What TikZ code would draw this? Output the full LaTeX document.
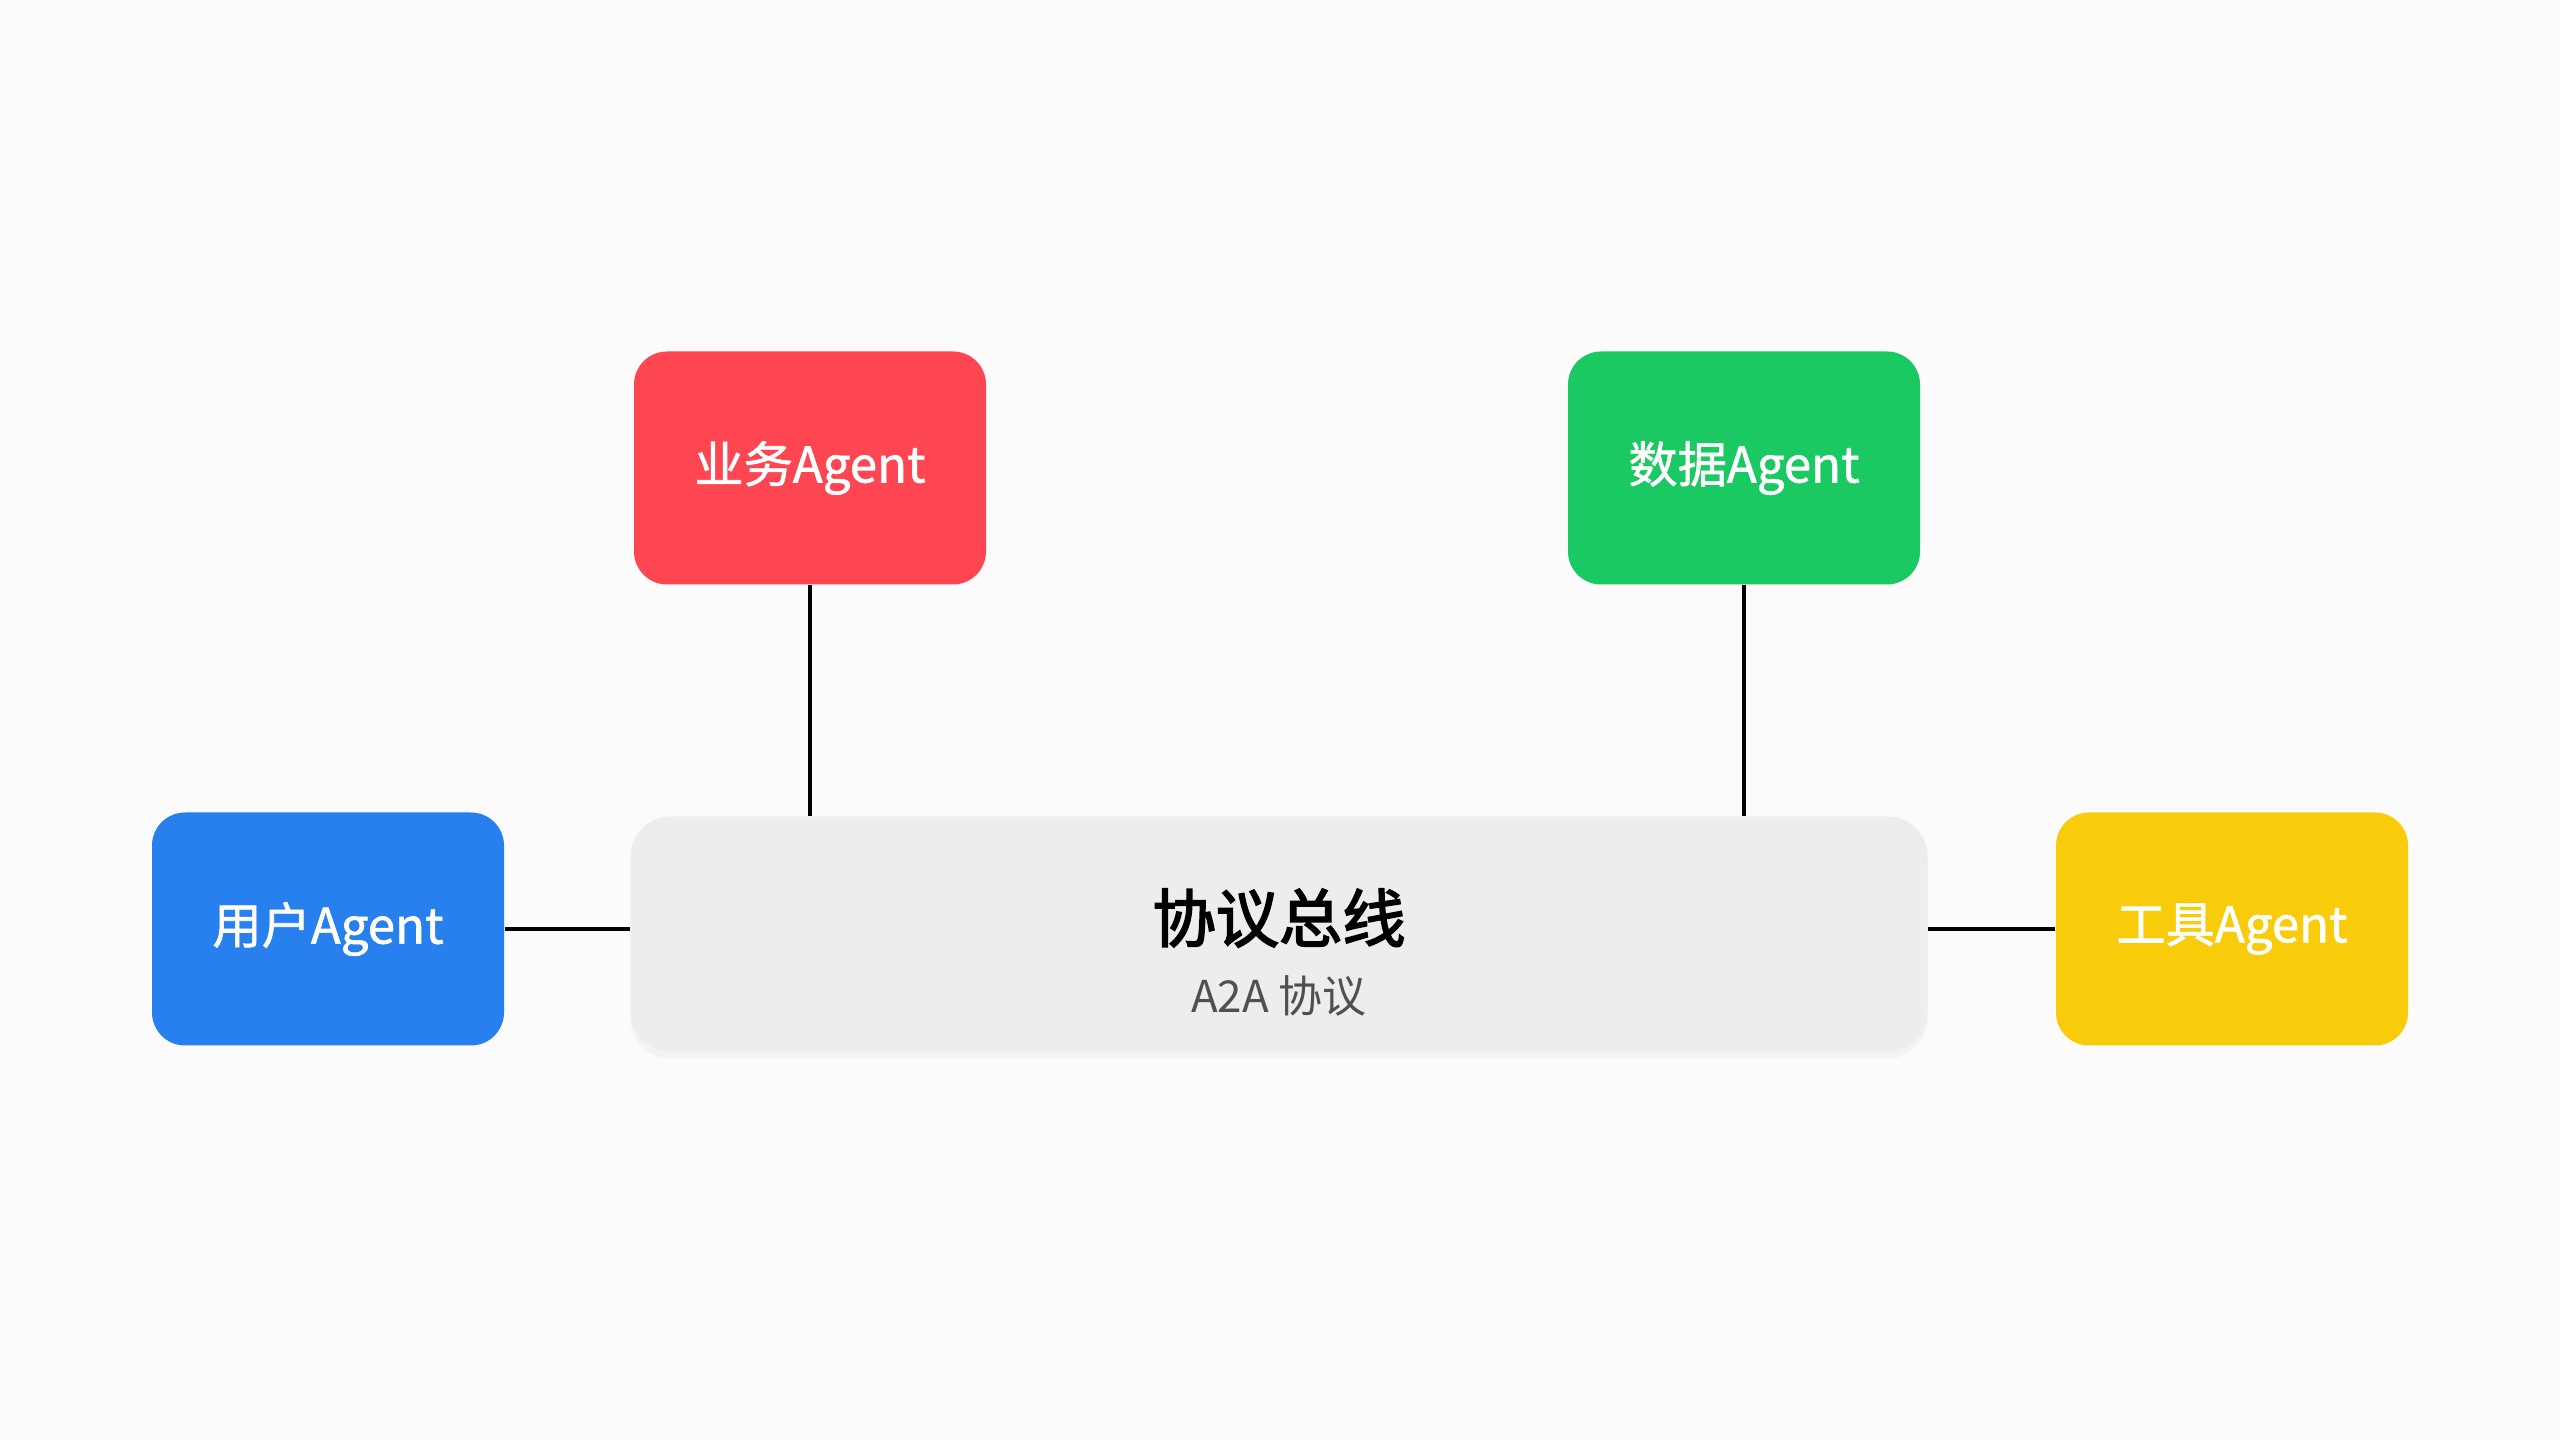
\documentclass[tikz,border=0pt]{standalone}
\usepackage{fontspec}
\setmainfont{Noto Sans CJK SC}
\newfontfamily\agentfont[FakeBold=1.2]{Noto Sans CJK SC}
\newfontfamily\titlefont[FakeBold=2.6]{Noto Sans CJK SC}
\usetikzlibrary{shadows}
\definecolor{bgwhite}{HTML}{FBFBFB}
\definecolor{agentred}{HTML}{FD4651}
\definecolor{agentgreen}{HTML}{1BC962}
\definecolor{agentblue}{HTML}{2780EE}
\definecolor{agentyellow}{HTML}{F9CC0B}
\definecolor{busgray}{HTML}{EDEDEF}
\definecolor{subgray}{HTML}{505050}
\begin{document}
\begin{tikzpicture}[
  agent/.style={rounded corners=0.33cm, minimum width=3.52cm, minimum height=2.33cm,
    text=white, font=\agentfont\fontsize{14}{16}\selectfont},
  bus/.style={fill=busgray, rounded corners=0.4cm, minimum width=12.97cm, minimum height=2.35cm,
    drop shadow={opacity=0.06, shadow xshift=0pt, shadow yshift=-2pt}},
  link/.style={draw=black, line width=0.9pt}]
\fill[bgwhite] (0,0) rectangle (25.6,14.4);
% agents
\node[agent, fill=agentred] (biz) at (8.10,9.72) {业务Agent};
\node[agent, fill=agentgreen] (data) at (17.44,9.72) {数据Agent};
\node[agent, fill=agentblue] (user) at (3.28,5.11) {用户Agent};
\node[agent, fill=agentyellow] (tool) at (22.32,5.11) {工具Agent};
% bus
\node[bus] (bus) at (12.79,5.06) {};
\node[font=\titlefont\fontsize{18}{20}\selectfont] (busname) at (12.79,5.22) {协议总线};
\node[font=\fontsize{12.5}{14}\selectfont, text=subgray] (busproto) at (12.79,4.44) {A2A 协议};
% links
\draw[link] (biz.south) -- (biz.south |- bus.north);
\draw[link] (data.south) -- (data.south |- bus.north);
\draw[link] (user.east) -- (user.east -| bus.west);
\draw[link] (tool.west) -- (tool.west -| bus.east);
\end{tikzpicture}
\end{document}
